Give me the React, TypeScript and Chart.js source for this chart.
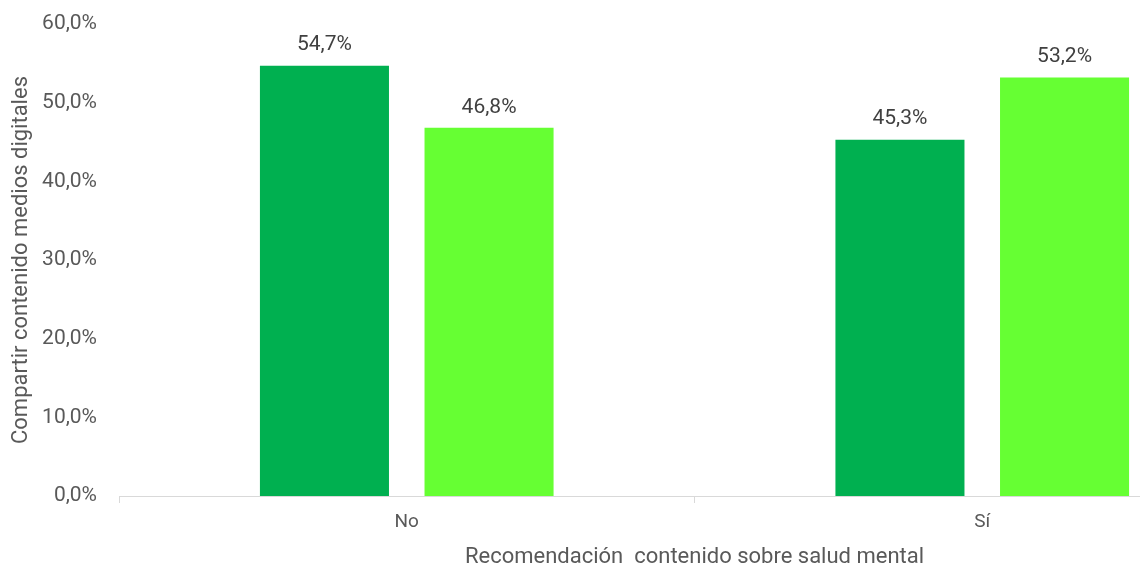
import React, { useEffect, useRef } from "react";
import { Chart, registerables } from "chart.js";

Chart.register(...registerables);

const categories = ["No", "Sí"];
const seriesA = [54.7, 45.3];
const seriesB = [46.8, 53.2];
const seriesNames = ["Serie 1", "Serie 2"];
const yTitle = "Compartir contenido medios digitales";
const xTitle = "Recomendación  contenido sobre salud mental";

const FONT = "Roboto, 'Liberation Sans', sans-serif";
const fmt = (v: number) => v.toFixed(1).replace(".", ",") + "%";

const valueLabels = {
  id: "valueLabels",
  afterDatasetsDraw(chart: any) {
    const ctx = chart.ctx;
    ctx.save();
    ctx.font = `21px ${FONT}`;
    ctx.fillStyle = "#404040";
    ctx.textAlign = "center";
    ctx.textBaseline = "bottom";
    chart.data.datasets.forEach((ds: any, i: number) => {
      const meta = chart.getDatasetMeta(i);
      meta.data.forEach((bar: any, j: number) => {
        ctx.fillText(fmt(ds.data[j]), bar.x, bar.y - 10);
      });
    });
    ctx.restore();
  },
};

export default function App() {
  const ref = useRef<HTMLCanvasElement>(null);
  useEffect(() => {
    if (!ref.current) return;
    const chart = new Chart(ref.current, {
      type: "bar",
      data: {
        labels: categories,
        datasets: [
          { label: seriesNames[0], data: seriesA, backgroundColor: "#00B050" },
          { label: seriesNames[1], data: seriesB, backgroundColor: "#66FF33" },
        ],
      },
      options: {
        responsive: false,
        animation: false,
        layout: { padding: { top: 24, left: 0, right: 0, bottom: 0 } },
        datasets: { bar: { categoryPercentage: 0.572, barPercentage: 0.784 } } as any,
        plugins: {
          legend: { display: false },
          tooltip: { enabled: false },
        },
        scales: {
          x: {
            offset: true,
            grid: {
              offset: true,
              drawOnChartArea: false,
              drawTicks: true,
              tickLength: 7,
              color: "#D9D9D9",
            },
            border: { color: "#D9D9D9", width: 1 },
            ticks: { color: "#595959", font: { family: FONT, size: 19 }, padding: 8 },
            title: {
              display: true,
              text: xTitle,
              color: "#595959",
              font: { family: FONT, size: 22 },
              padding: { top: 6, bottom: 0 },
            },
            afterFit(scale: any) {
              scale.height = 75;
              scale.paddingLeft = 0;
              scale.paddingRight = 0;
            },
          },
          y: {
            min: 0,
            max: 60,
            ticks: {
              stepSize: 10,
              color: "#595959",
              font: { family: FONT, size: 21 },
              padding: 14,
              callback: (v: any) => fmt(Number(v)),
            },
            grid: { display: false },
            border: { display: false },
            title: {
              display: true,
              text: yTitle,
              color: "#595959",
              font: { family: FONT, size: 22 },
              padding: { top: 8, bottom: 0 },
            },
            afterFit(scale: any) {
              scale.width = 119;
              scale.paddingTop = 0;
              scale.paddingBottom = 0;
            },
          },
        },
      },
      plugins: [valueLabels],
    });
    return () => chart.destroy();
  }, []);
  return (
    <div style={{ position: "absolute", left: 0, top: 0, width: 1140, height: 571, overflow: "hidden", background: "#fff" }}>
      <canvas ref={ref} width={1270} height={571} style={{ display: "block" }} />
    </div>
  );
}
